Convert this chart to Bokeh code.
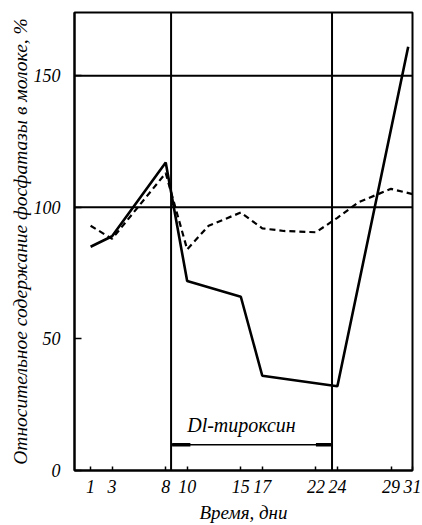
from bokeh.plotting import figure
from bokeh.models import Span, Label, FixedTicker
from bokeh.embed import file_html
from bokeh.resources import INLINE

# Days on which milk samples were taken (x-axis ticks)
day_ticks = [1, 3, 8, 10, 15, 17, 22, 24, 29, 31]
value_ticks = [0, 50, 100, 150]

# Treated animal (solid line)
solid_days = [1, 3, 8, 10, 15, 17, 24, 30.6]
solid_vals = [85, 89, 117, 72, 66, 36, 32, 161]

# Control animal (dashed line)
dashed_days = [1, 3, 8, 10, 12, 15, 17, 19, 22, 24, 26, 29, 31]
dashed_vals = [93, 88, 113, 84, 93, 98, 92, 91, 90.5, 96, 102, 107, 105]

# Period of DL-thyroxine administration
treat_start, treat_end = 8.5, 23.5
bracket_level = 9.8
treat_label = "Dl-тироксин"

y_title = "Относительное содержание фосфатазы в молоке, %"
x_title = "Время, дни"

FONT = "Liberation Sans Narrow"

p = figure(width=422, height=525, x_range=(-0.5, 31), y_range=(0, 174),
           output_backend="svg", toolbar_location=None,
           min_border_left=74, min_border_right=10,
           min_border_top=12, min_border_bottom=54)
p.background_fill_color = "white"
p.border_fill_color = "white"
p.grid.visible = False
p.outline_line_color = "black"
p.outline_line_width = 2
p.outline_line_alpha = 1

# Axes
p.xaxis.ticker = FixedTicker(ticks=day_ticks)
p.yaxis.ticker = FixedTicker(ticks=value_ticks)
for ax in (p.xaxis[0], p.yaxis[0]):
    ax.axis_line_width = 2
    ax.axis_line_color = "black"
    ax.major_tick_out = 0
    ax.minor_tick_out = 0
    ax.minor_tick_in = 0
    ax.major_tick_line_color = "black"
    ax.major_tick_line_width = 1.5
    ax.major_label_text_font = FONT
    ax.major_label_text_font_style = "italic"
    ax.major_label_text_font_size = "18px"
    ax.major_label_text_color = "black"
    ax.axis_label_text_font = FONT
    ax.axis_label_text_font_style = "italic"
    ax.axis_label_text_color = "black"

p.xaxis.major_tick_in = 4
p.xaxis.major_label_standoff = 9
p.xaxis.axis_label = x_title
p.xaxis.axis_label_text_font_size = "19px"
p.xaxis.axis_label_standoff = 6

p.yaxis.major_tick_in = 7
p.yaxis.major_label_standoff = 14
p.yaxis.axis_label = y_title
p.yaxis.axis_label_text_font_size = "19.5px"
p.yaxis.axis_label_standoff = 0

# Reference grid lines
for v in (100, 150):
    p.add_layout(Span(location=v, dimension="width", line_color="black", line_width=2))
for d in (treat_start, treat_end):
    p.add_layout(Span(location=d, dimension="height", line_color="black", line_width=2))

# Curves
p.line(dashed_days, dashed_vals, line_color="black", line_width=2.2, line_dash="6 4")
p.line(solid_days, solid_vals, line_color="black", line_width=2.6)

# Treatment bracket
p.segment(x0=[treat_start], y0=[bracket_level], x1=[treat_end], y1=[bracket_level],
          line_color="black", line_width=1.5)
p.segment(x0=[treat_start + 0.1, treat_end - 1.5], y0=[bracket_level, bracket_level],
          x1=[treat_start + 1.8, treat_end - 0.1], y1=[bracket_level, bracket_level],
          line_color="black", line_width=3.5)
p.add_layout(Label(x=15.06, y=17.4, text=treat_label, text_align="center",
                   text_baseline="middle", text_font=FONT, text_font_style="italic",
                   text_font_size="20px", text_color="black"))

open("out.html", "w").write(file_html(p, INLINE))
